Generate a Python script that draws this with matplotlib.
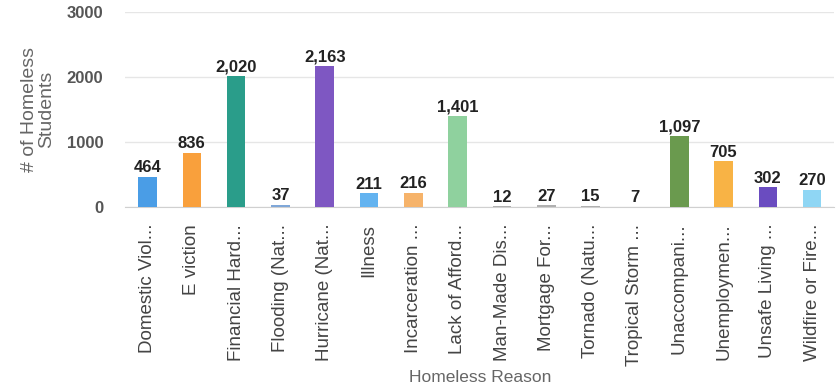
import matplotlib
matplotlib.use('Agg')
import matplotlib.pyplot as plt

plt.rcParams['font.family'] = ['Liberation Sans', 'DejaVu Sans']

reasons = ['Domestic Viol...', 'E viction', 'Financial Hard...', 'Flooding (Nat...',
           'Hurricane (Nat...', 'Illness', 'Incarceration ...', 'Lack of Afford...',
           'Man-Made Dis...', 'Mortgage For...', 'Tornado (Natu...', 'Tropical Storm ...',
           'Unaccompani...', 'Unemploymen...', 'Unsafe Living ...', 'Wildfire or Fire...']
students = [464, 836, 2020, 37, 2163, 211, 216, 1401, 12, 27, 15, 7, 1097, 705, 302, 270]
colors = ['#4a9de6', '#f9a03c', '#2a9d8a', '#7fa7d8', '#7e57c2', '#63b3f0', '#f6b36a',
          '#8fd19e', '#b0b0b0', '#b0b0b0', '#b0b0b0', '#b0b0b0', '#6a9a4e', '#f8b345',
          '#6a4cc0', '#8fd6f4']

fig = plt.figure(figsize=(8.36, 3.9), dpi=100)
ax = fig.add_axes([0.15, 0.469, 0.848, 0.5])

x = range(len(reasons))
ax.bar(x, students, width=0.42, color=colors, zorder=3)
for i, v in enumerate(students):
    ax.text(i, v + 25, f'{v:,}', ha='center', va='bottom', fontsize=12,
            fontweight='bold', color='#222222')

ax.set_xlim(-0.5, len(reasons) - 0.5)
ax.set_ylim(0, 3000)
ax.set_yticks([0, 1000, 2000, 3000])
ax.grid(axis='y', color='#e6e6e6', linewidth=1, zorder=0)
for s in ['top', 'right', 'left']:
    ax.spines[s].set_visible(False)
ax.spines['bottom'].set_color('#d0d0d0')

ax.set_xticks(list(x))
ax.set_xticklabels(reasons, rotation=90, fontsize=13.5, color='#444444')
ax.tick_params(axis='x', length=0, pad=12)
ax.tick_params(axis='y', length=0, pad=16, labelsize=12, labelcolor='#555555')
for lb in ax.get_yticklabels():
    lb.set_fontweight('bold')

ax.set_ylabel('# of Homeless\nStudents', fontsize=14, color='#666666', labelpad=8,
              linespacing=1.0)
ax.set_xlabel('Homeless Reason', fontsize=12.5, color='#666666', labelpad=3)

fig.savefig('out.png', dpi=100)
